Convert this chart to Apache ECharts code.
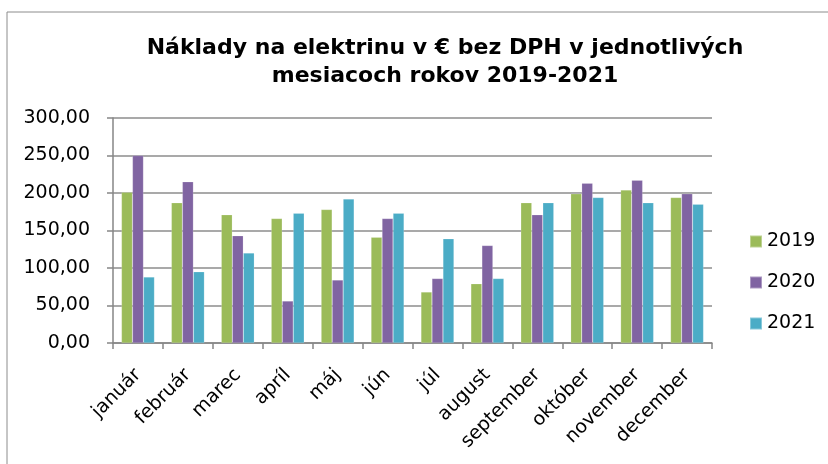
<!DOCTYPE html>
<html>
<head>
<meta charset="utf-8">
<script src="https://cdn.jsdelivr.net/npm/echarts@6/dist/echarts.min.js"></script>
<style>
  html, body { margin: 0; padding: 0; background: #fff; }
  #chart { width: 828px; height: 464px; }
</style>
</head>
<body>
<div id="chart"></div>
<script>
// mesiace
const months = ["január", "február", "marec", "apríl", "máj", "jún", "júl", "august", "september", "október", "november", "december"];
const years = ["2019", "2020", "2021"];
// náklady v € bez DPH
const values2019 = [201, 187, 171, 166, 178, 141, 68, 79, 187, 199, 204, 194];
const values2020 = [250, 215, 143, 56, 84, 166, 86, 130, 171, 213, 217, 199];
const values2021 = [88, 95, 120, 173, 192, 173, 139, 86, 187, 194, 187, 185];
const colorList = ["#9bbb59", "#8064a2", "#4bacc6"];

const chart = echarts.init(document.getElementById("chart"));
const fontFamily = "'DejaVu Sans', Verdana, sans-serif";

const makeSeries = (name, data, i) => ({
  name: name,
  type: "bar",
  data: data,
  barWidth: 11,
  barGap: "0%",
  itemStyle: { color: colorList[i], borderColor: "rgba(255,255,255,0.35)", borderWidth: 0.5 },
});

const option = {
  animation: false,
  backgroundColor: "#fff",
  graphic: [
    {
      type: "rect",
      shape: { x: 7, y: 12, width: 900, height: 600 },
      style: { fill: "none", stroke: "#8c8c8c", lineWidth: 1 },
      silent: true,
    },
  ],
  title: {
    text: "Náklady na elektrinu v € bez DPH v jednotlivých\nmesiacoch rokov 2019-2021",
    left: 440,
    top: 29,
    textAlign: "center",
    textStyle: {
      fontFamily: fontFamily,
      fontWeight: "bold",
      fontSize: 22,
      lineHeight: 28,
      color: "#000",
    },
  },
  legend: {
    orient: "vertical",
    left: 744,
    top: 227,
    itemWidth: 12,
    itemHeight: 12,
    itemGap: 22,
    icon: "rect",
    data: years,
    textStyle: { fontFamily: fontFamily, fontSize: 19, lineHeight: 19, color: "#000" },
  },
  grid: { left: 113, right: 116, top: 118, bottom: 121, containLabel: false },
  xAxis: {
    type: "category",
    data: months,
    axisLine: { lineStyle: { color: "#868686", width: 1.5 } },
    axisTick: { show: true, length: 6, lineStyle: { color: "#868686", width: 1.5 } },
    axisLabel: {
      rotate: 45,
      interval: 0,
      margin: 29,
      fontFamily: fontFamily,
      fontSize: 19,
      color: "#000",
    },
  },
  yAxis: {
    type: "value",
    min: 0,
    max: 300,
    interval: 50,
    axisLine: { show: true, lineStyle: { color: "#868686", width: 1.5 } },
    axisTick: { show: true, length: 6, lineStyle: { color: "#868686", width: 1.5 } },
    splitLine: { lineStyle: { color: "#8c8c8c", width: 1.5 } },
    axisLabel: {
      margin: 23,
      fontFamily: fontFamily,
      fontSize: 19,
      color: "#000",
      formatter: (v) => v.toFixed(2).replace(".", ","),
    },
  },
  series: [
    makeSeries(years[0], values2019, 0),
    makeSeries(years[1], values2020, 1),
    makeSeries(years[2], values2021, 2),
  ],
};

chart.setOption(option);
</script>
</body>
</html>
